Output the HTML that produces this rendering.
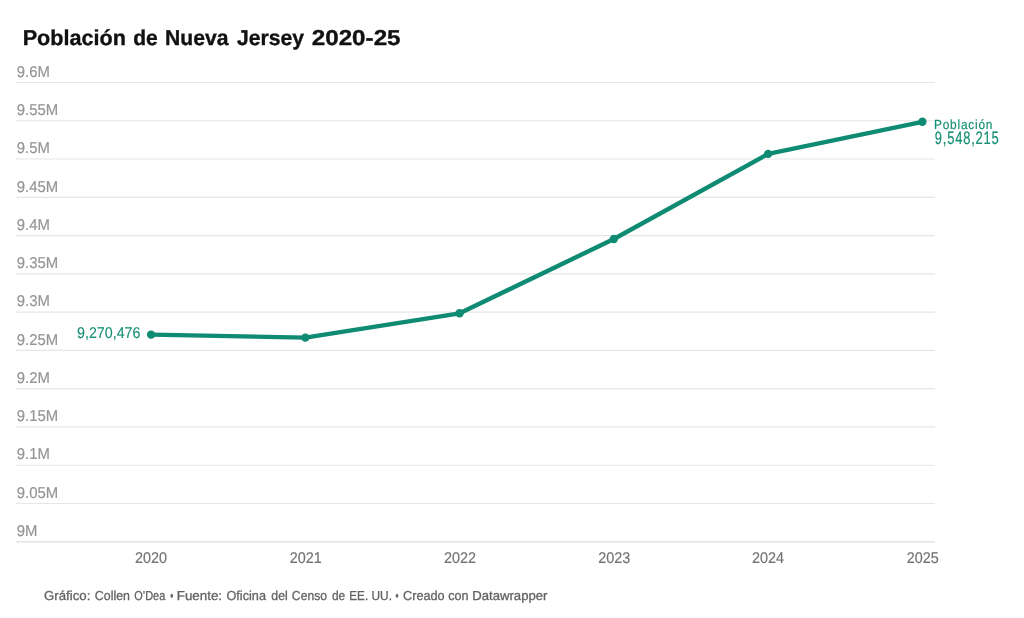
<!DOCTYPE html>
<html><head><meta charset="utf-8"><style>
html,body{margin:0;padding:0;background:#fff;width:1024px;height:618px;overflow:hidden}
svg{position:absolute;left:0;top:0;display:block;will-change:transform}
text{font-family:"Liberation Sans",sans-serif;text-rendering:geometricPrecision}
</style></head><body>
<svg width="1024" height="618" viewBox="0 0 1024 618">
<line x1="16" y1="82.50" x2="935" y2="82.50" stroke="#e6e6e6" stroke-width="1.15"/>
<text transform="translate(16.79,76.70) scale(0.9451,1)" style="font-size:15.75px;fill:#959595;stroke:#959595;stroke-width:0.2px">9.6M</text>
<line x1="16" y1="120.77" x2="935" y2="120.77" stroke="#e6e6e6" stroke-width="1.15"/>
<text transform="translate(16.79,114.97) scale(0.9451,1)" style="font-size:15.75px;fill:#959595;stroke:#959595;stroke-width:0.2px">9.55M</text>
<line x1="16" y1="159.04" x2="935" y2="159.04" stroke="#e6e6e6" stroke-width="1.15"/>
<text transform="translate(16.79,153.24) scale(0.9451,1)" style="font-size:15.75px;fill:#959595;stroke:#959595;stroke-width:0.2px">9.5M</text>
<line x1="16" y1="197.31" x2="935" y2="197.31" stroke="#e6e6e6" stroke-width="1.15"/>
<text transform="translate(16.79,191.51) scale(0.9451,1)" style="font-size:15.75px;fill:#959595;stroke:#959595;stroke-width:0.2px">9.45M</text>
<line x1="16" y1="235.58" x2="935" y2="235.58" stroke="#e6e6e6" stroke-width="1.15"/>
<text transform="translate(16.79,229.78) scale(0.9451,1)" style="font-size:15.75px;fill:#959595;stroke:#959595;stroke-width:0.2px">9.4M</text>
<line x1="16" y1="273.85" x2="935" y2="273.85" stroke="#e6e6e6" stroke-width="1.15"/>
<text transform="translate(16.79,268.05) scale(0.9451,1)" style="font-size:15.75px;fill:#959595;stroke:#959595;stroke-width:0.2px">9.35M</text>
<line x1="16" y1="312.12" x2="935" y2="312.12" stroke="#e6e6e6" stroke-width="1.15"/>
<text transform="translate(16.79,306.32) scale(0.9451,1)" style="font-size:15.75px;fill:#959595;stroke:#959595;stroke-width:0.2px">9.3M</text>
<line x1="16" y1="350.39" x2="935" y2="350.39" stroke="#e6e6e6" stroke-width="1.15"/>
<text transform="translate(16.79,344.59) scale(0.9451,1)" style="font-size:15.75px;fill:#959595;stroke:#959595;stroke-width:0.2px">9.25M</text>
<line x1="16" y1="388.66" x2="935" y2="388.66" stroke="#e6e6e6" stroke-width="1.15"/>
<text transform="translate(16.79,382.86) scale(0.9451,1)" style="font-size:15.75px;fill:#959595;stroke:#959595;stroke-width:0.2px">9.2M</text>
<line x1="16" y1="426.93" x2="935" y2="426.93" stroke="#e6e6e6" stroke-width="1.15"/>
<text transform="translate(16.79,421.13) scale(0.9451,1)" style="font-size:15.75px;fill:#959595;stroke:#959595;stroke-width:0.2px">9.15M</text>
<line x1="16" y1="465.20" x2="935" y2="465.20" stroke="#e6e6e6" stroke-width="1.15"/>
<text transform="translate(16.79,459.40) scale(0.9451,1)" style="font-size:15.75px;fill:#959595;stroke:#959595;stroke-width:0.2px">9.1M</text>
<line x1="16" y1="503.47" x2="935" y2="503.47" stroke="#e6e6e6" stroke-width="1.15"/>
<text transform="translate(16.79,497.67) scale(0.9451,1)" style="font-size:15.75px;fill:#959595;stroke:#959595;stroke-width:0.2px">9.05M</text>
<line x1="16" y1="541.74" x2="935" y2="541.74" stroke="#e4e4e4" stroke-width="1.4"/>
<text transform="translate(16.79,535.94) scale(0.9451,1)" style="font-size:15.75px;fill:#959595;stroke:#959595;stroke-width:0.2px">9M</text>
<polyline points="151.10,334.60 305.36,337.60 459.62,313.30 613.88,239.00 768.14,153.90 922.40,121.80" fill="none" stroke="#0e8b72" stroke-width="4.4" stroke-linejoin="round" stroke-linecap="round"/>
<circle cx="151.10" cy="334.60" r="4.2" fill="#0e8b72"/><circle cx="305.36" cy="337.60" r="4.2" fill="#0e8b72"/><circle cx="459.62" cy="313.30" r="4.2" fill="#0e8b72"/><circle cx="613.88" cy="239.00" r="4.2" fill="#0e8b72"/><circle cx="768.14" cy="153.90" r="4.2" fill="#0e8b72"/><circle cx="922.40" cy="121.80" r="4.2" fill="#0e8b72"/>
<text transform="translate(134.94,562.8) scale(0.9270,1)" style="font-size:15.5px;fill:#737373;stroke:#737373;stroke-width:0.2px">2020</text>
<text transform="translate(289.67,562.8) scale(0.9270,1)" style="font-size:15.5px;fill:#737373;stroke:#737373;stroke-width:0.2px">2021</text>
<text transform="translate(443.93,562.8) scale(0.9270,1)" style="font-size:15.5px;fill:#737373;stroke:#737373;stroke-width:0.2px">2022</text>
<text transform="translate(598.19,562.8) scale(0.9270,1)" style="font-size:15.5px;fill:#737373;stroke:#737373;stroke-width:0.2px">2023</text>
<text transform="translate(751.98,562.8) scale(0.9270,1)" style="font-size:15.5px;fill:#737373;stroke:#737373;stroke-width:0.2px">2024</text>
<text transform="translate(906.71,562.8) scale(0.9270,1)" style="font-size:15.5px;fill:#737373;stroke:#737373;stroke-width:0.2px">2025</text>
<text transform="translate(22.67,45.00) scale(1.0044,1)" style="font-size:21.5px;font-weight:bold;fill:#111111;stroke:#111111;stroke-width:0.35px">Población</text>
<text transform="translate(133.17,45.00) scale(0.9771,1)" style="font-size:21.5px;font-weight:bold;fill:#111111;stroke:#111111;stroke-width:0.35px">de</text>
<text transform="translate(165.09,45.00) scale(0.9811,1)" style="font-size:21.5px;font-weight:bold;fill:#111111;stroke:#111111;stroke-width:0.35px">Nueva</text>
<text transform="translate(236.97,45.00) scale(0.9833,1)" style="font-size:21.5px;font-weight:bold;fill:#111111;stroke:#111111;stroke-width:0.35px">Jersey</text>
<text transform="translate(311.70,45.00) scale(1.1262,1)" style="font-size:21.5px;font-weight:bold;fill:#111111;stroke:#111111;stroke-width:0.35px">2020-25</text>
<text transform="translate(44.05,599.70) scale(1.0177,1)" style="font-size:13px;font-weight:normal;fill:#626262;stroke:#626262;stroke-width:0.3px">Gráfico:</text>
<text transform="translate(94.84,599.70) scale(0.9506,1)" style="font-size:13px;font-weight:normal;fill:#626262;stroke:#626262;stroke-width:0.3px">Collen</text>
<text transform="translate(134.23,599.70) scale(0.8413,1)" style="font-size:13px;font-weight:normal;fill:#626262;stroke:#626262;stroke-width:0.3px">O’Dea</text>
<text transform="translate(170.20,599.70) scale(0.6792,1)" style="font-size:13px;font-weight:normal;fill:#626262;stroke:#626262;stroke-width:0.3px">•</text>
<text transform="translate(176.73,599.70) scale(1.0287,1)" style="font-size:13px;font-weight:normal;fill:#626262;stroke:#626262;stroke-width:0.3px">Fuente:</text>
<text transform="translate(226.45,599.70) scale(0.9776,1)" style="font-size:13px;font-weight:normal;fill:#626262;stroke:#626262;stroke-width:0.3px">Oficina</text>
<text transform="translate(271.34,599.70) scale(0.9459,1)" style="font-size:13px;font-weight:normal;fill:#626262;stroke:#626262;stroke-width:0.3px">del</text>
<text transform="translate(291.84,599.70) scale(0.9376,1)" style="font-size:13px;font-weight:normal;fill:#626262;stroke:#626262;stroke-width:0.3px">Censo</text>
<text transform="translate(331.94,599.70) scale(0.9153,1)" style="font-size:13px;font-weight:normal;fill:#626262;stroke:#626262;stroke-width:0.3px">de</text>
<text transform="translate(349.34,599.70) scale(0.8960,1)" style="font-size:13px;font-weight:normal;fill:#626262;stroke:#626262;stroke-width:0.3px">EE.</text>
<text transform="translate(371.53,599.70) scale(0.9110,1)" style="font-size:13px;font-weight:normal;fill:#626262;stroke:#626262;stroke-width:0.3px">UU.</text>
<text transform="translate(395.50,599.70) scale(0.6604,1)" style="font-size:13px;font-weight:normal;fill:#626262;stroke:#626262;stroke-width:0.3px">•</text>
<text transform="translate(402.95,599.70) scale(0.9788,1)" style="font-size:13px;font-weight:normal;fill:#626262;stroke:#626262;stroke-width:0.3px">Creado</text>
<text transform="translate(448.24,599.70) scale(0.9653,1)" style="font-size:13px;font-weight:normal;fill:#626262;stroke:#626262;stroke-width:0.3px">con</text>
<text transform="translate(472.24,599.70) scale(1.0108,1)" style="font-size:13px;font-weight:normal;fill:#626262;stroke:#626262;stroke-width:0.3px">Datawrapper</text>
<text transform="translate(77.07,338.20) scale(0.9184,1)" style="font-size:15.5px;font-weight:normal;fill:#178f75;stroke:#178f75;stroke-width:0.15px">9,270,476</text>
<text transform="translate(933.99,128.75) scale(0.9000,1)" style="font-size:13.2px;font-weight:normal;fill:#178f75;stroke:#178f75;stroke-width:0.2px;letter-spacing:0.874px">Población</text>
<text transform="translate(934.87,144.40) scale(0.7200,1)" style="font-size:18px;font-weight:normal;fill:#178f75;stroke:#178f75;stroke-width:0.2px;letter-spacing:1.078px">9,548,215</text>
</svg>
</body></html>
